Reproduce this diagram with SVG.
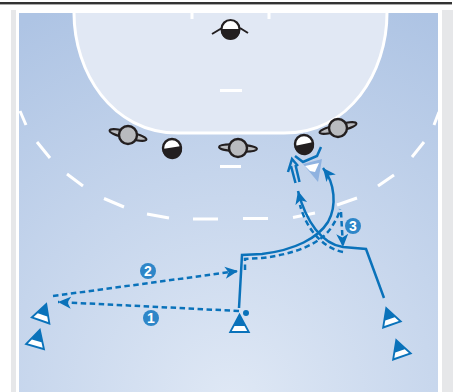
<svg xmlns="http://www.w3.org/2000/svg" width="460" height="392" viewBox="0 0 460 392">
<style>
.ln{fill:none;stroke:#fff;stroke-width:3}
.sol{fill:none;stroke:#0a72ba;stroke-width:2.500}
.dot{fill:none;stroke:#0a72ba;stroke-width:2.500;stroke-dasharray:5.500 3.500}
.tri{fill:#0a72ba;stroke:#0a72ba;stroke-width:2.200;stroke-linejoin:miter}
.band{fill:#fff}
.def{fill:#b9bbbf;stroke:#231f20;stroke-width:2.400}
.orb{fill:#b9bbbf;stroke:#231f20;stroke-width:2}
.num{font-family:"Liberation Sans",Arial,sans-serif;font-weight:bold;fill:#fff;text-anchor:middle}
.bad{fill:#2e86c8}
</style>
<defs>
<radialGradient id="bg" gradientUnits="userSpaceOnUse" cx="231" cy="400" r="430">
<stop offset="0" stop-color="#dfe8f5"/><stop offset="1" stop-color="#aec4e4"/>
</radialGradient>
<marker id="ah" markerUnits="userSpaceOnUse" markerWidth="16" markerHeight="14" refX="13" refY="6.500" orient="auto">
<path d="M13 6.500L0 0.500L3.500 6.500L0 12.500Z" fill="#0a72ba"/>
</marker>
<g id="att">
<path class="tri" d="M0-8L9 8.800H-9Z"/>
<path class="band" d="M-5 3H5L7.700 8H-7.700Z"/>
</g>
</defs>
<rect width="460" height="392" fill="#fff"/>
<rect x="0" y="2" width="452" height="2" fill="#333"/>
<rect x="0" y="4" width="452" height="1" fill="#aaa"/>
<rect x="11" y="10" width="442" height="382" fill="#e6e7e9"/>
<rect x="16" y="10" width="426" height="382" fill="#fff"/>
<rect x="19" y="13" width="419" height="379" fill="url(#bg)"/>
<g id="court">
<path d="M74 13C74 72 112 133 178 133H284C350 133 387 72 387 13Z" fill="#e1e8f4"/>
<path class="ln" d="M74 13C74 72 112 133 178 133H284C350 133 387 72 387 13"/>
<path class="ln" d="M192 13V19M269 13V19M220 90.500H242M220 166.500H241"/>
<path class="ln" d="M20 111L26 125M37 142L50 158M67 174L83 186M104 198.500L124 207M147 214L169 218M193 219H218M243 218.500H268M293 217.500L315 213M337 205L357 198M378 186L394 175M412 157L424 142M434 125L439 112"/>
</g>
<g id="connectors">
<path class="dot" d="M239 311L58 302" marker-end="url(#ah)"/>
<path class="dot" d="M53 296L238 271" marker-end="url(#ah)"/>
<path class="sol" d="M239 308L242 255L262 254C295 250 318 238 328 222C337 206 335 183 323 168" marker-end="url(#ah)"/>
<path class="sol" d="M384 298L366 249L343 247C322 244 306 222 298 191" marker-end="url(#ah)"/>
<path class="dot" d="M245 270V259L262 258C295 254 320 244 331 228C336 220 339 215 340 209"/>
<path class="dot" d="M343 252C322 248 306 228 300 205"/>
<path class="dot" d="M341 212L343 247" marker-end="url(#ah)"/>
<path class="sol" d="M295.500 183L291 166M299.500 182L295.500 165M288 172L292 159L298 166M295 156L303 162L317 156L321 147"/>
</g>
<g id="pale-attacker">
<path d="M303 164L322 159L318 182Z" fill="#8fb2e0"/>
<path class="band" d="M305 166L319 163L315 172L310 171Z"/>
</g>
<g id="goalkeeper">
<path d="M212 34L222 28M240 28L248 33" stroke="#231f20" stroke-width="2" fill="none"/>
<circle cx="230.500" cy="29" r="9" fill="#fff" stroke="#231f20" stroke-width="2.200"/>
<path d="M221 29H240A9.600 9.600 0 1 1 221 29Z" fill="#231f20"/>
</g>
<g id="def1"><ellipse class="orb" cx="128" cy="135" rx="19" ry="3.500" transform="rotate(14 128 135)"/><circle class="def" cx="128" cy="135" r="9"/></g>
<g id="ball1"><circle cx="172" cy="148" r="9" fill="#fff" stroke="#231f20" stroke-width="2.400"/><path d="M162.500 149L181.500 146A9.800 9.800 0 1 1 162.500 149Z" fill="#231f20"/></g>
<g id="def2"><ellipse class="orb" cx="238" cy="148" rx="19" ry="3.500" transform="rotate(3 238 148)"/><circle class="def" cx="238" cy="148" r="9"/></g>
<g id="ball2"><circle cx="304" cy="144" r="9" fill="#fff" stroke="#231f20" stroke-width="2.400"/><path d="M294.500 146L313.500 142A9.800 9.800 0 1 1 294.500 146Z" fill="#231f20"/></g>
<g id="def3"><ellipse class="orb" cx="338" cy="128" rx="19" ry="3.500" transform="rotate(-14 338 128)"/><circle class="def" cx="338" cy="128" r="9"/></g>
<g id="att1"><use href="#att" transform="translate(239.500 323)"/><circle cx="246" cy="313" r="3" fill="#0a72ba"/></g>
<g id="att2"><use href="#att" transform="translate(43.500 312) rotate(19)"/></g>
<g id="att3"><use href="#att" transform="translate(37.500 338) rotate(16)"/></g>
<g id="att4"><use href="#att" transform="translate(389 316) rotate(-19)"/></g>
<g id="att5"><use href="#att" transform="translate(399 348) rotate(-19)"/></g>
<g id="n1"><circle class="bad" cx="151" cy="318" r="8"/><text class="num" x="151" y="323" font-size="14">1</text></g>
<g id="n2"><circle class="bad" cx="148" cy="271" r="8"/><text class="num" x="148" y="276" font-size="14">2</text></g>
<g id="n3"><circle class="bad" cx="353" cy="226" r="8"/><text class="num" x="353" y="231" font-size="14">3</text></g>
</svg>
